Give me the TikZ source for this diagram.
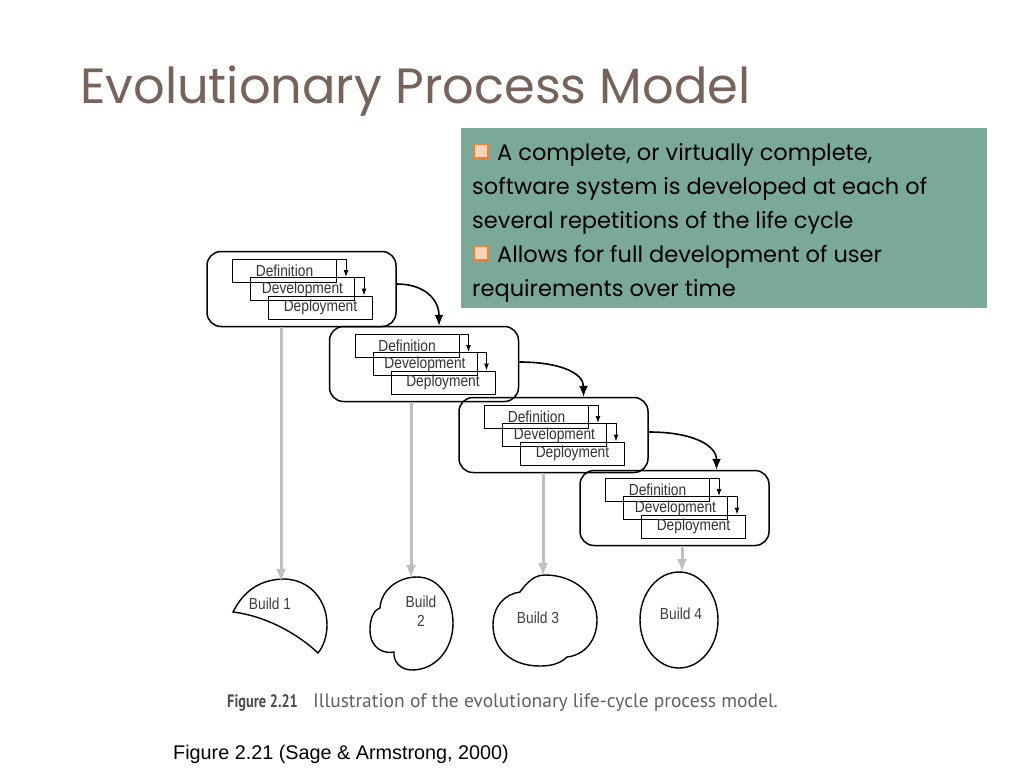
\documentclass[tikz,border=0pt]{standalone}
\usepackage{fontspec}
\setmainfont{Liberation Sans}
\newfontfamily\slidefont{Poppins}
\newfontfamily\scanfont[FakeStretch=0.86]{Liberation Sans}
\newfontfamily\bookfont{PT Sans}
\newfontfamily\booklabelfont[FakeStretch=0.8]{PT Sans}
\usetikzlibrary{arrows.meta,positioning}
\definecolor{titlebrown}{HTML}{76645C}
\definecolor{boxteal}{HTML}{7AA899}
\definecolor{bulletorange}{HTML}{E8823A}

\begin{document}
\begin{tikzpicture}[x=1pt,y=-1pt,>=Latex,
  cyclebox/.style={draw,line width=1.5pt,rounded corners=14pt,minimum width=189pt,minimum height=75pt,inner sep=0pt},
  phasebox/.style={draw,line width=1pt,minimum width=104pt,minimum height=23pt,inner sep=0pt,text=black!80,font=\scanfont\fontsize{16}{16}\selectfont},
  steparrow/.style={draw,line width=1pt,-{Latex[length=7pt,width=5pt]}},
  cyclearrow/.style={draw,line width=1.6pt,-{Latex[length=11pt,width=9pt]}},
  buildarrow/.style={draw=black!25,line width=3pt,-{Latex[open,length=13pt,width=10pt]}},
  buildline/.style={draw,line width=1.4pt},
  buildlabel/.style={text=black!75,align=center,inner sep=0pt,font=\scanfont\fontsize{16}{17}\selectfont},
  pointtext/.style={anchor=base west,inner sep=0pt,font=\slidefont\fontsize{22.5}{22.5}\selectfont},
  bulletbox/.style={draw=bulletorange,line width=2pt,fill=bulletorange!35,minimum size=14pt,inner sep=0pt}]
  \useasboundingbox[fill=white] (0,0) rectangle (1024,768);

  % title
  \node[anchor=base west,inner sep=0pt,text=titlebrown,font=\slidefont\fontsize{49.5}{50}\selectfont] (title) at (80,103) {Evolutionary Process Model};

  % text panel
  \node[fill=boxteal,minimum width=526pt,minimum height=180pt,anchor=north west,inner sep=0pt] (panel) at (461,128) {};
  \node[bulletbox] (bul1) at (481,151) {};
  \node[pointtext] (line1) at (497,160) {A complete, or virtually complete,};
  \node[pointtext] (line2) at (472,194) {software system is developed at each of};
  \node[pointtext] (line3) at (472,228) {several repetitions of the life cycle};
  \node[bulletbox] (bul2) at (481,253) {};
  \node[pointtext] (line4) at (497,262) {Allows for full development of user};
  \node[pointtext] (line5) at (472,296) {requirements over time};

  % life-cycle repetitions
  \node[cyclebox] (cycle1) at (301.5,289) {};
  \node[cyclebox] (cycle2) at (424,364) {};
  \node[cyclebox] (cycle3) at (553.5,435) {};
  \node[cyclebox] (cycle4) at (674.5,508) {};
  \foreach \i in {1,...,4}{
    \node[phasebox] (def\i) at ([xshift=-17pt,yshift=18pt]cycle\i.center) {Definition};
    \node[phasebox] (dev\i) at ([xshift=1pt]cycle\i.center) {Development};
    \node[phasebox] (dep\i) at ([xshift=19pt,yshift=-18.5pt]cycle\i.center) {Deployment};
    \draw[steparrow] (def\i.north east) -| ([xshift=-9pt]dev\i.north east);
    \draw[steparrow] (dev\i.north east) -| ([xshift=-9pt]dep\i.north east);
  }
  \draw[cyclearrow] ([yshift=5pt]cycle1.east) .. controls +(28,0) and +(0,-26) .. ([xshift=15pt]cycle2.north);
  \draw[cyclearrow] ([yshift=2pt]cycle2.east) .. controls +(40,0) and +(0,-24) .. ([xshift=30pt]cycle3.north);
  \draw[cyclearrow] ([yshift=3pt]cycle3.east) .. controls +(45,0) and +(0,-24) .. ([xshift=42pt]cycle4.north);

  % builds
  \coordinate (top1) at (281,582);
  \coordinate (top2) at (411,578);
  \coordinate (top3) at (543,576);
  \coordinate (top4) at (682,572);
  \draw[buildline] (233,612) .. controls (246,586) and (266,579) .. (285,579)
    .. controls (310,580) and (327,600) .. (327,625)
    .. controls (327,637) and (323,647) .. (318,653)
    .. controls (298,634) and (266,616) .. cycle;
  \draw[buildline] (380,608) .. controls (381,590) and (398,577) .. (417,577)
    .. controls (440,577) and (453,600) .. (453,623)
    .. controls (453,650) and (435,670) .. (412,670)
    .. controls (401,670) and (393,662) .. (394,652)
    .. controls (386,654) and (370,650) .. (370,630)
    .. controls (370,615) and (376,609) .. cycle;
  \draw[buildline] (520,592) .. controls (528,581) and (535,575) .. (545,575)
    .. controls (575,575) and (597,595) .. (597,620)
    .. controls (597,640) and (585,655) .. (567,657)
    .. controls (560,664) and (550,666) .. (540,666)
    .. controls (510,666) and (493,648) .. (493,625)
    .. controls (493,606) and (505,594) .. cycle;
  \draw[buildline] (679,620) ellipse [x radius=39,y radius=48];
  \node[buildlabel] (build1) at (270,604) {Build 1};
  \node[buildlabel] (build2) at (421,611) {Build\\[2pt]2};
  \node[buildlabel] (build3) at (538,618) {Build 3};
  \node[buildlabel] (build4) at (681,614) {Build 4};
  \foreach \i in {1,...,4}
    \draw[buildarrow] (top\i |- cycle\i.south) -- (top\i);

  % captions
  \node[anchor=base west,inner sep=0pt,text=black!70,font=\booklabelfont\bfseries\fontsize{18}{18}\selectfont] (figlabel) at (227,707) {Figure 2.21};
  \node[anchor=base west,inner sep=0pt,text=black!62,font=\bookfont\fontsize{19.5}{19.5}\selectfont] (figtext) at (313,707) {Illustration of the evolutionary life-cycle process model.};
  \node[anchor=base west,inner sep=0pt,font=\fontsize{19.8}{20}\selectfont] (source) at (173,759) {Figure 2.21 (Sage \& Armstrong, 2000)};
\end{tikzpicture}
\end{document}
